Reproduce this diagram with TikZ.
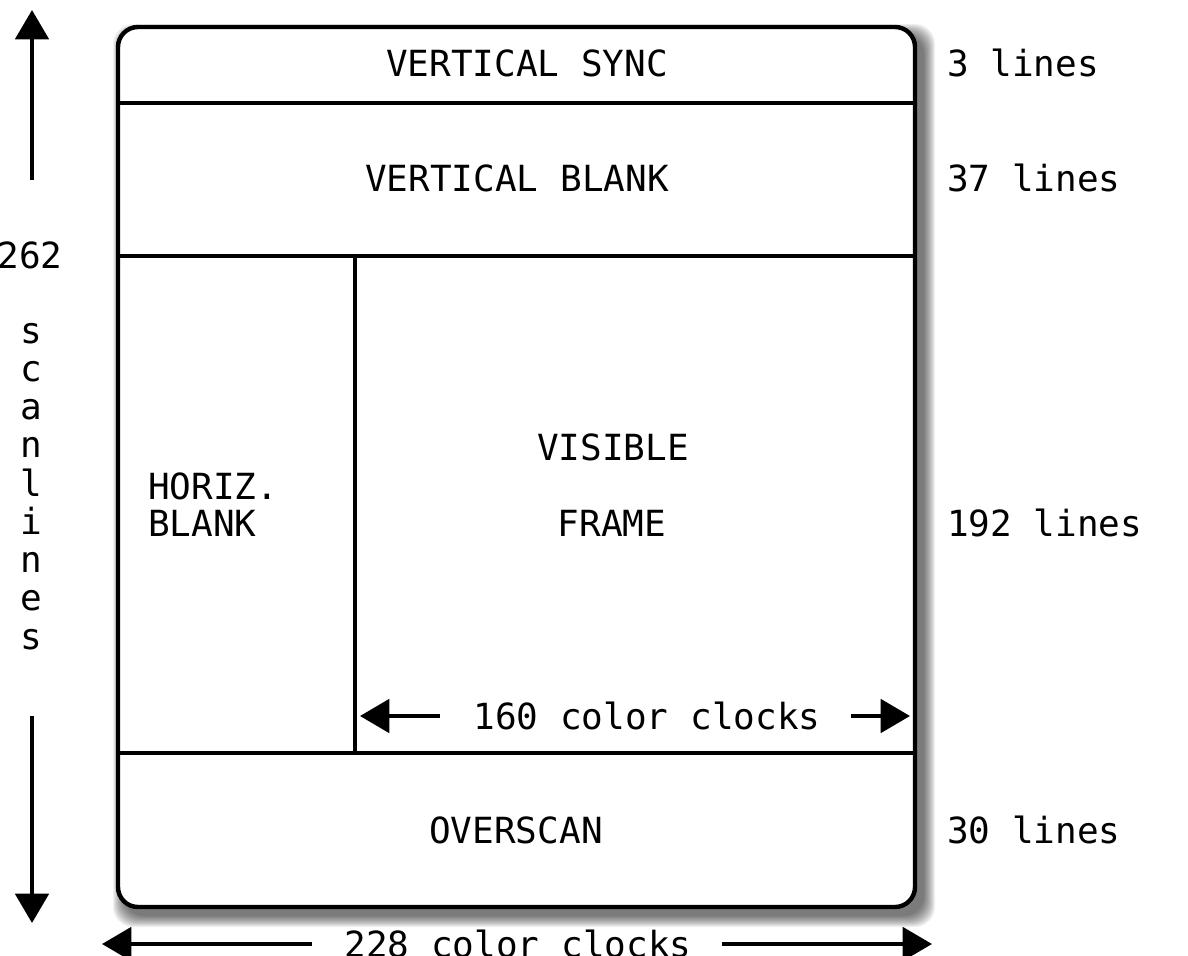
\documentclass[tikz,border=0pt]{standalone}
\usepackage{fontspec}
\newfontfamily\scanfont{DejaVu Sans Mono}
\usetikzlibrary{arrows.meta}

\tikzset{every picture/.style={line width=3.3pt}}
\tikzset{
  lbl/.style={font=\scanfont\fontsize{27}{32}\selectfont, inner sep=0pt},
  dimarrow/.style={line width=3pt, -{Triangle[length=22pt,width=25pt]}},
}

\begin{document}
\begin{tikzpicture}[x=0.75pt,y=0.75pt,yscale=-1,xscale=1]
\useasboundingbox (0,0) rectangle (1188,956);
\clip (0,0) rectangle (1188,956);

%Shape: Shadow
\foreach \k in {0,...,11}
  \fill[black, opacity=0.06, rounded corners=15pt] (113+\k,24+\k) rectangle (935-\k,927-\k);
%Shape: Rounded Rectangle
\draw [fill=white, rounded corners=15pt] (118,27) rectangle (915,907);
%Straight Lines
\draw (118,103) -- (915,103);
%Straight Lines
\draw (118,256) -- (915,256);
%Straight Lines
\draw (118,753) -- (915,753);
%Straight Lines
\draw (355,256) -- (355,753);

% Text Node
\node [lbl, anchor=base] (vsync) at (527,76) {VERTICAL SYNC};
% Text Node
\node [lbl, anchor=base] (vblank) at (517,191) {VERTICAL BLANK};
% Text Node
\node [lbl, anchor=base] (visible) at (613,460) {VISIBLE};
% Text Node
\node [lbl, anchor=base] (frame) at (612,536) {FRAME};
% Text Node
\node [lbl, anchor=base west] (horiz) at (146,499) {HORIZ.};
% Text Node
\node [lbl, anchor=base west] (hblank) at (146,536) {BLANK};
% Text Node
\node [lbl, anchor=base] (clocksvis) at (647,729) {160 color clocks};
% Text Node
\node [lbl, anchor=base] (overscan) at (516,843) {OVERSCAN};
% Text Node
\node [lbl, anchor=base] (clockstot) at (518,957) {228 color clocks};

% Text Node
\node [lbl, anchor=base west] (lsync) at (945,76) {3 lines};
% Text Node
\node [lbl, anchor=base west] (lblank) at (945,191) {37 lines};
% Text Node
\node [lbl, anchor=base west] (lvis) at (945,536) {192 lines};
% Text Node
\node [lbl, anchor=base west] (lover) at (945,843) {30 lines};

% Text Node
\node [lbl, anchor=base] (total) at (30,268) {262};
\foreach \ch [count=\i] in {s,c,a,n,l,i,n,e,s}
  \node [lbl, anchor=base] (scan\i) at (31,343+\i*38.25-38.25) {\ch};

%Straight Lines
\coordinate (upTail) at (32,180);
\coordinate (upTip) at (32,10);
\draw [dimarrow] (upTail) -- (upTip);
%Straight Lines
\coordinate (downTail) at (32,716);
\coordinate (downTip) at (32,923);
\draw [dimarrow] (downTail) -- (downTip);
%Straight Lines
\coordinate (visLTail) at (440,716);
\coordinate (visLTip) at (360,716);
\draw [dimarrow] (visLTail) -- (visLTip);
%Straight Lines
\coordinate (visRTail) at (851,716);
\coordinate (visRTip) at (910,716);
\draw [dimarrow] (visRTail) -- (visRTip);
%Straight Lines
\coordinate (totLTail) at (312,944);
\coordinate (totLTip) at (102,944);
\draw [dimarrow] (totLTail) -- (totLTip);
%Straight Lines
\coordinate (totRTail) at (722,944);
\coordinate (totRTip) at (932,944);
\draw [dimarrow] (totRTail) -- (totRTip);

\end{tikzpicture}
\end{document}
